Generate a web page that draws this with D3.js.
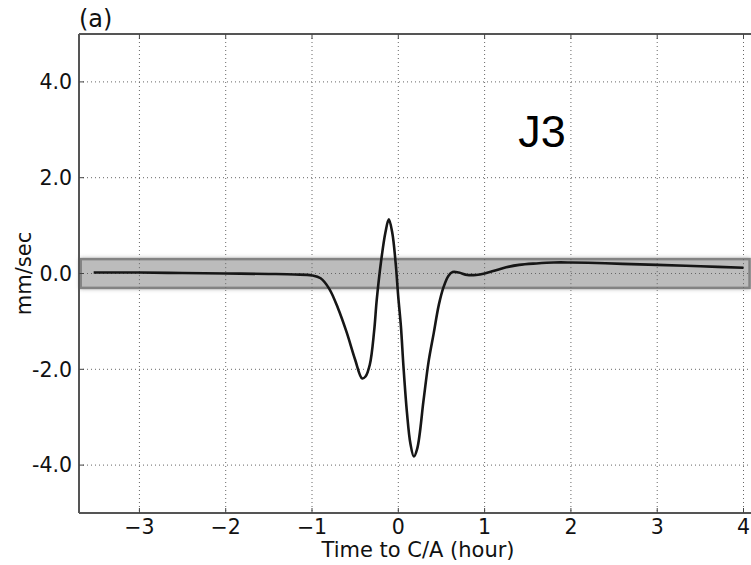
<!DOCTYPE html>
<html><head><meta charset="utf-8">
<script src="https://cdn.jsdelivr.net/npm/d3@7"></script>
<style>body{margin:0;background:#fff}svg{display:block}</style>
</head><body>
<svg id="c" width="751" height="565"></svg>
<script>
const times = [-3.53,-3.0,-2.5,-2.0,-1.5,-1.2,-1.0,-0.9,-0.8,-0.7,-0.6,-0.5,-0.42,-0.38,-0.33,-0.28,-0.25,-0.2,-0.15,-0.11,-0.07,-0.03,0.0,0.03,0.06,0.1,0.14,0.18,0.22,0.293,0.35,0.41,0.47,0.525,0.58,0.63,0.7,0.8,0.9,1.0,1.1,1.25,1.4,1.6,1.8,2.0,2.3,2.6,3.0,3.5,4.0];
const values = [0.02,0.02,0.01,0.0,-0.01,-0.02,-0.04,-0.1,-0.32,-0.72,-1.22,-1.8,-2.19,-2.15,-1.9,-1.2,-0.55,0.25,0.85,1.13,0.85,0.2,-0.5,-1.1,-1.95,-2.9,-3.55,-3.82,-3.65,-2.64,-1.85,-1.25,-0.65,-0.28,-0.05,0.03,0.02,-0.03,-0.03,0.0,0.05,0.13,0.18,0.21,0.23,0.23,0.22,0.2,0.18,0.15,0.12];
const xTicks = [-3,-2,-1,0,1,2,3,4];
const yTicks = [-4,-2,0,2,4];
const band = {t0:-3.68, t1:4.07, lo:-0.3, hi:0.3};
const title = "(a)", label = "J3", xLabel = "Time to C/A (hour)", yLabel = "mm/sec";

const svg = d3.select("#c");
const L = 79.0, T = 34, B = 513;
const x = d3.scaleLinear().domain([-3.7, 4.2]).range([L, L + 7.9*86.3]);
const y = d3.scaleLinear().domain([-5, 5]).range([B, T]);
const R = x(4.2);

const defs = svg.append("defs");
defs.append("filter").attr("id","blur").attr("x","-10%").attr("y","-100%").attr("width","120%").attr("height","300%")
  .append("feGaussianBlur").attr("stdDeviation",2);
defs.append("clipPath").attr("id","clip").append("rect").attr("x",L).attr("y",T).attr("width",R-L).attr("height",B-T);

const g = svg.append("g");
// grid
g.selectAll(".gx").data(xTicks).join("line")
  .attr("x1",d=>x(d)).attr("x2",d=>x(d)).attr("y1",T).attr("y2",B)
  .attr("stroke","#666").attr("stroke-width",1).attr("stroke-dasharray","1,3");
g.selectAll(".gy").data(yTicks).join("line")
  .attr("x1",L).attr("x2",R).attr("y1",d=>y(d)).attr("y2",d=>y(d))
  .attr("stroke","#666").attr("stroke-width",1).attr("stroke-dasharray","1,3");

// band shadow + band
g.append("rect").attr("x",x(band.t0)-1).attr("y",y(band.hi)-1)
  .attr("width",x(band.t1)-x(band.t0)+2).attr("height",y(band.lo)-y(band.hi)+2)
  .attr("fill","#aaa").attr("filter","url(#blur)");
g.append("rect").attr("x",x(band.t0)).attr("y",y(band.hi))
  .attr("width",x(band.t1)-x(band.t0)).attr("height",y(band.lo)-y(band.hi))
  .attr("fill","#bcbcbc").attr("stroke","#838383").attr("stroke-width",2.5);
// grid over band
g.selectAll(".gx2").data(xTicks).join("line")
  .attr("x1",d=>x(d)).attr("x2",d=>x(d)).attr("y1",y(band.hi)).attr("y2",y(band.lo))
  .attr("stroke","#666").attr("stroke-width",1).attr("stroke-dasharray","1,3");
g.append("line").attr("x1",L).attr("x2",R).attr("y1",y(0)).attr("y2",y(0))
  .attr("stroke","#666").attr("stroke-width",1).attr("stroke-dasharray","1,3");

// curve
const line = d3.line().x((d,i)=>x(times[i])).y(d=>y(d)).curve(d3.curveCatmullRom.alpha(0.5));
g.append("path").datum(values).attr("d",line).attr("fill","none")
  .attr("stroke","#161616").attr("stroke-width",2.6).attr("clip-path","url(#clip)");

// spines
g.append("line").attr("x1",L).attr("x2",L).attr("y1",T).attr("y2",B).attr("stroke","#555").attr("stroke-width",2);
g.append("line").attr("x1",L).attr("x2",R).attr("y1",T).attr("y2",T).attr("stroke","#555").attr("stroke-width",2);
g.append("line").attr("x1",L).attr("x2",R).attr("y1",B).attr("y2",B).attr("stroke","#555").attr("stroke-width",2);

// ticks
g.selectAll(".tb").data(xTicks).join("line").attr("x1",d=>x(d)).attr("x2",d=>x(d)).attr("y1",B).attr("y2",B-5).attr("stroke","#444").attr("stroke-width",1);
g.selectAll(".tt").data(xTicks).join("line").attr("x1",d=>x(d)).attr("x2",d=>x(d)).attr("y1",T).attr("y2",T+5).attr("stroke","#444").attr("stroke-width",1);
g.selectAll(".tl").data(yTicks).join("line").attr("x1",L).attr("x2",L+5).attr("y1",d=>y(d)).attr("y2",d=>y(d)).attr("stroke","#444").attr("stroke-width",1);

const font = "'DejaVu Sans', sans-serif";
g.selectAll(".xl").data(xTicks).join("text").attr("x",d=>x(d)).attr("y",B+21)
  .attr("text-anchor","middle").attr("font-family",font).attr("font-size",20.5).attr("fill","#111")
  .text(d=>d<0?"\u2212"+Math.abs(d):String(d));
g.selectAll(".yl").data(yTicks).join("text").attr("x",L-7).attr("y",d=>y(d)+7.3)
  .attr("text-anchor","end").attr("font-family",font).attr("font-size",20.5).attr("fill","#111")
  .text(d=>d.toFixed(1));

svg.append("text").attr("x",418).attr("y",557).attr("text-anchor","middle")
  .attr("font-family",font).attr("font-size",21).attr("fill","#111").text(xLabel);
svg.append("text").attr("transform",`translate(31,${y(0)}) rotate(-90)`).attr("text-anchor","middle")
  .attr("font-family",font).attr("font-size",21).attr("fill","#111").text(yLabel);
svg.append("text").attr("x",L).attr("y",27).attr("font-family",font).attr("font-size",24).attr("fill","#111").text(title);
svg.append("text").attr("x",542).attr("y",147).attr("text-anchor","middle")
  .attr("font-family","'Liberation Sans', Arial, sans-serif").attr("font-size",45).attr("fill","#000").text(label);
</script>
</body></html>
